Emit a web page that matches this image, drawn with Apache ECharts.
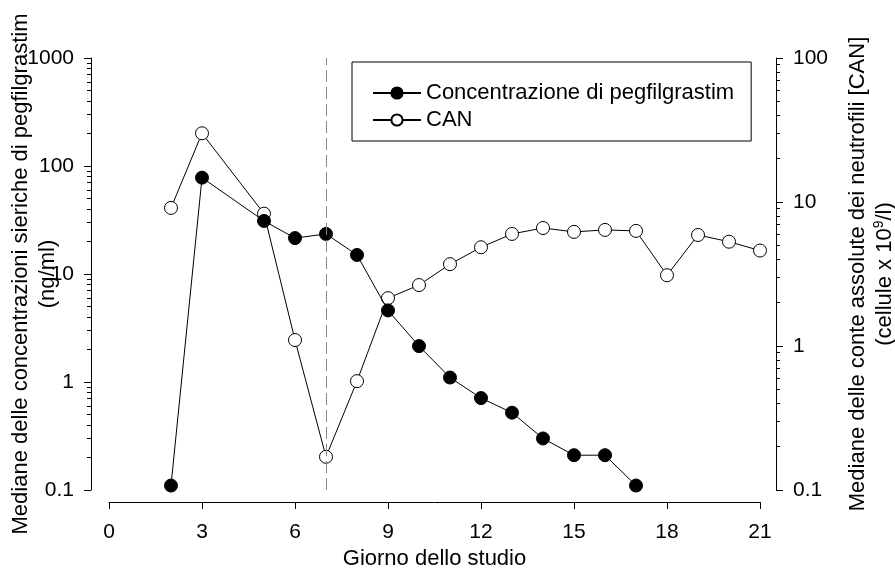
<!DOCTYPE html>
<html>
<head>
<meta charset="utf-8">
<script src="https://cdn.jsdelivr.net/npm/echarts@6/dist/echarts.min.js"></script>
<style>
  html, body { margin: 0; padding: 0; background: #fff; }
  #main { width: 895px; height: 572px; }
</style>
</head>
<body>
<div id="main"></div>
<script>
// giorni dello studio
var giorniConc = [2, 3, 5, 6, 7, 8, 9, 10, 11, 12, 13, 14, 15, 16, 17];
var concentrazione = [0.11, 78, 31, 21.5, 23.5, 15, 4.6, 2.15, 1.1, 0.71, 0.52, 0.3, 0.21, 0.21, 0.11];

var giorniCan = [2, 3, 5, 6, 7, 8, 9, 10, 11, 12, 13, 14, 15, 16, 17, 18, 19, 20, 21];
var can = [9.1, 30, 8.3, 1.1, 0.17, 0.57, 2.15, 2.65, 3.7, 4.85, 6.0, 6.6, 6.2, 6.4, 6.3, 3.1, 5.9, 5.3, 4.6];

var giornoRiferimento = 7; // linea tratteggiata

function pairs(xs, ys) {
    var out = [];
    for (var i = 0; i < xs.length; i++) out.push([xs[i], ys[i]]);
    return out;
}

var font = '"Liberation Sans", Arial, sans-serif';
var fmt = function (v) { return String(+(+v).toPrecision(3)); };

var myChart = echarts.init(document.getElementById('main'));

var option = {
    animation: false,
    textStyle: { fontFamily: font, color: '#000' },
    grid: { left: 109, right: 135, top: 58, bottom: 82, outerBoundsMode: 'none', containLabel: false },
    legend: {
        orient: 'vertical',
        left: 352,
        top: 62,
        padding: [20, 17, 10, 20],
        itemGap: 5,
        itemWidth: 48,
        itemHeight: 14,
        borderColor: '#000',
        borderWidth: 1,
        backgroundColor: '#fff',
        textStyle: { fontSize: 22, color: '#000', fontFamily: font },
        data: ['Concentrazione di pegfilgrastim', 'CAN']
    },
    xAxis: {
        type: 'value',
        min: 0,
        max: 21,
        interval: 3,
        offset: 12,
        name: 'Giorno dello studio',
        nameLocation: 'middle',
        nameGap: 46,
        nameMoveOverlap: false,
        nameTextStyle: { fontSize: 22, color: '#000', fontFamily: font },
        axisLine: { onZero: false, lineStyle: { color: '#000', width: 1 } },
        axisTick: { length: 7, lineStyle: { color: '#000' } },
        axisLabel: { fontSize: 21, color: '#000', margin: 20, fontFamily: font },
        splitLine: { show: false }
    },
    yAxis: [
        {
            type: 'log',
            logBase: 10,
            min: 0.1,
            max: 1000,
            position: 'left',
            offset: 18,
            name: 'Mediane delle concentrazioni sieriche di pegfilgrastim\n(ng/ml)',
            nameLocation: 'middle',
            nameGap: 30,
            nameMoveOverlap: false,
            nameTextStyle: { fontSize: 22, lineHeight: 27, color: '#000', fontFamily: font },
            axisLine: { show: true, onZero: false, lineStyle: { color: '#000', width: 1 } },
            axisTick: { show: true, length: 7, lineStyle: { color: '#000' } },
            minorTick: { show: true, splitNumber: 9, length: 4, lineStyle: { color: '#000' } },
            axisLabel: { fontSize: 21, color: '#000', margin: 17, formatter: fmt, fontFamily: font },
            splitLine: { show: false }
        },
        {
            type: 'log',
            logBase: 10,
            min: 0.1,
            max: 100,
            position: 'right',
            offset: 16,
            name: 'Mediane delle conte assolute dei neutrofili [CAN]\n{a|(cellule x 10}{s|9}{a|/l)}',
            nameLocation: 'middle',
            nameGap: 68,
            nameMoveOverlap: false,
            nameTextStyle: {
                fontSize: 22, lineHeight: 27, color: '#000', fontFamily: font,
                rich: {
                    a: { fontSize: 22, color: '#000', fontFamily: font },
                    s: { fontSize: 14, color: '#000', fontFamily: font, padding: [0, 0, 10, 0] }
                }
            },
            axisLine: { show: true, onZero: false, lineStyle: { color: '#000', width: 1 } },
            axisTick: { show: true, length: 7, lineStyle: { color: '#000' } },
            minorTick: { show: true, splitNumber: 9, length: 4, lineStyle: { color: '#000' } },
            axisLabel: { fontSize: 21, color: '#000', margin: 17, formatter: fmt, fontFamily: font },
            splitLine: { show: false }
        }
    ],
    series: [
        {
            name: 'Concentrazione di pegfilgrastim',
            type: 'line',
            yAxisIndex: 0,
            data: pairs(giorniConc, concentrazione),
            symbol: 'circle',
            symbolSize: 13,
            showAllSymbol: true,
            lineStyle: { color: '#000', width: 1 },
            itemStyle: { color: '#000', borderColor: '#000', borderWidth: 1 },
            z: 3,
            markLine: {
                silent: true,
                symbol: 'none',
                label: { show: false },
                lineStyle: { color: '#888', type: [12, 5], width: 1 },
                data: [{ xAxis: giornoRiferimento }]
            }
        },
        {
            name: 'CAN',
            type: 'line',
            yAxisIndex: 1,
            data: pairs(giorniCan, can),
            symbol: 'circle',
            symbolSize: 13,
            showAllSymbol: true,
            lineStyle: { color: '#000', width: 1 },
            itemStyle: { color: '#fff', borderColor: '#000', borderWidth: 1 },
            z: 2
        }
    ]
};

myChart.setOption(option);
</script>
</body>
</html>
